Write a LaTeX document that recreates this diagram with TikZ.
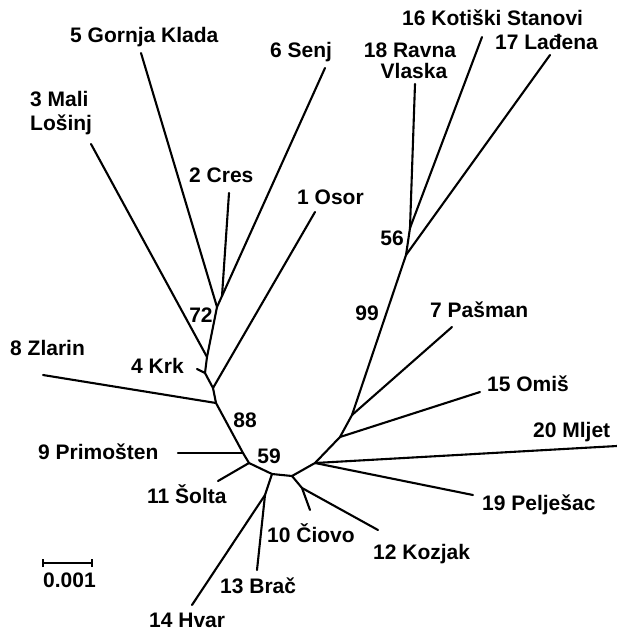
\documentclass[tikz,border=0pt]{standalone}
\usepackage{fontspec}
\setmainfont{Liberation Sans}
\begin{document}
\begin{tikzpicture}[x=1pt,y=-1pt,
  edge/.style={line width=2.1pt,line cap=round,line join=round},
  lbl/.style={inner sep=0pt,font=\fontsize{21}{22}\selectfont\bfseries},
  boot/.style={lbl}]
\useasboundingbox (0,0) rectangle (617,634);
% internal nodes
\coordinate (n1) at (222,296);
\coordinate (n2) at (217,307);
\coordinate (n3) at (207,357);
\coordinate (n4) at (205,373);
\coordinate (n5) at (213,388);
\coordinate (n6) at (216,403);
\coordinate (n7) at (243,453);
\coordinate (n8) at (249,463);
\coordinate (n9) at (272,474);
\coordinate (n10) at (265,495);
\coordinate (n11) at (292,476);
\coordinate (n12) at (302,488);
\coordinate (n13) at (315,463);
\coordinate (n14) at (340,437);
\coordinate (n15) at (352,415);
\coordinate (n16) at (406,255);
\coordinate (n17) at (410,228);
% tips
\coordinate (cres) at (229,193);
\coordinate (senj) at (325,68);
\coordinate (gornja) at (141,53);
\coordinate (mali) at (91,144);
\coordinate (krk) at (197,369);
\coordinate (osor) at (315,212);
\coordinate (zlarin) at (43,375);
\coordinate (primosten) at (178,453);
\coordinate (solta) at (218,481);
\coordinate (hvar) at (192,605);
\coordinate (brac) at (257,570);
\coordinate (ciovo) at (310,510);
\coordinate (kozjak) at (378,530);
\coordinate (peljesac) at (473,495);
\coordinate (mljet) at (617,446);
\coordinate (omis) at (480,392);
\coordinate (pasman) at (452,327);
\coordinate (ladena) at (550,55);
\coordinate (kotiski) at (482,37);
\coordinate (ravna) at (415,84);
% edges
\draw[edge] (n1) -- (cres);
\draw[edge] (n1) -- (senj);
\draw[edge] (n1) -- (n2);
\draw[edge] (n2) -- (gornja);
\draw[edge] (n2) -- (n3);
\draw[edge] (n3) -- (mali);
\draw[edge] (n3) -- (n4);
\draw[edge] (n4) -- (krk);
\draw[edge] (n4) -- (n5);
\draw[edge] (n5) -- (osor);
\draw[edge] (n5) -- (n6);
\draw[edge] (n6) -- (zlarin);
\draw[edge] (n6) -- (n7);
\draw[edge] (n7) -- (primosten);
\draw[edge] (n7) -- (n8);
\draw[edge] (n8) -- (solta);
\draw[edge] (n8) -- (n9);
\draw[edge] (n9) -- (n10);
\draw[edge] (n10) -- (hvar);
\draw[edge] (n10) -- (brac);
\draw[edge] (n9) -- (n11);
\draw[edge] (n11) -- (n12);
\draw[edge] (n12) -- (ciovo);
\draw[edge] (n12) -- (kozjak);
\draw[edge] (n11) -- (n13);
\draw[edge] (n13) -- (mljet);
\draw[edge] (n13) -- (peljesac);
\draw[edge] (n13) -- (n14);
\draw[edge] (n14) -- (omis);
\draw[edge] (n14) -- (n15);
\draw[edge] (n15) -- (pasman);
\draw[edge] (n15) -- (n16);
\draw[edge] (n16) -- (ladena);
\draw[edge] (n16) -- (n17);
\draw[edge] (n17) -- (kotiski);
\draw[edge] (n17) -- (ravna);
% labels
\node[lbl,anchor=base west] (l5) at (70,43) {5 Gornja Klada};
\node[lbl,anchor=base west] (l6) at (270,57) {6 Senj};
\node[lbl,anchor=base west] (l3a) at (30,106) {3 Mali};
\node[lbl,anchor=base west] (l3b) at (30,130) {Lošinj};
\node[lbl,anchor=base west] (l2) at (189,182) {2 Cres};
\node[lbl,anchor=base west] (l1) at (297,204) {1 Osor};
\node[lbl,anchor=base west] (l16) at (402,26) {16 Kotiški Stanovi};
\node[lbl,anchor=base west] (l17) at (495,50) {17 Lađena};
\node[lbl,anchor=base] (l18a) at (410,57) {18 Ravna};
\node[lbl,anchor=base] (l18b) at (414,78) {Vlaska};
\node[lbl,anchor=base west] (l7) at (430,317) {7 Pašman};
\node[lbl,anchor=base west] (l15) at (487,391) {15 Omiš};
\node[lbl,anchor=base west] (l20) at (533,437) {20 Mljet};
\node[lbl,anchor=base west] (l19) at (482,510) {19 Pelješac};
\node[lbl,anchor=base west] (l8) at (10,355) {8 Zlarin};
\node[lbl,anchor=base west] (l4) at (131,373) {4 Krk};
\node[lbl,anchor=base west] (l9) at (38,459) {9 Primošten};
\node[lbl,anchor=base west] (l11) at (147,503) {11 Šolta};
\node[lbl,anchor=base west] (l10) at (267,542) {10 Čiovo};
\node[lbl,anchor=base west] (l12) at (373,559) {12 Kozjak};
\node[lbl,anchor=base west] (l13) at (220,593) {13 Brač};
\node[lbl,anchor=base west] (l14) at (149,627) {14 Hvar};
% bootstrap values
\node[boot,anchor=base] (b56) at (392,245) {56};
\node[boot,anchor=base] (b72) at (201,322) {72};
\node[boot,anchor=base] (b88) at (245,427) {88};
\node[boot,anchor=base] (b59) at (269,463) {59};
\node[boot,anchor=base] (b99) at (367,320) {99};
% scale bar
\coordinate (sa) at (43,563);
\coordinate (sb) at (92,563);
\draw[edge,line cap=butt] (sa) -- (sb);
\draw[edge,line cap=butt] ([yshift=-4]sa) -- ([yshift=4]sa);
\draw[edge,line cap=butt] ([yshift=-4]sb) -- ([yshift=4]sb);
\node[lbl,anchor=base] (sl) at (69.5,587) {0.001};
\end{tikzpicture}
\end{document}
